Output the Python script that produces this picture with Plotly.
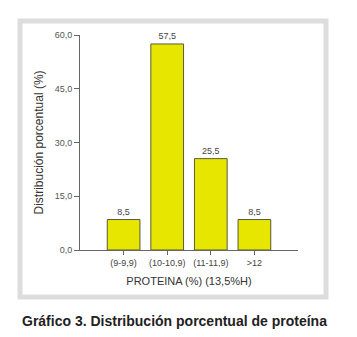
import plotly.graph_objects as go

categories = ["(9-9,9)", "(10-10,9)", "(11-11,9)", ">12"]
values = [8.5, 57.5, 25.5, 8.5]
y_ticks = [0, 15, 30, 45, 60]

L, R, T, B = 80, 59, 35, 87
W, H = 357, 337
pw, ph = W - L - R, H - T - B

def px(x):
    return (x - L) / pw

def py(y):
    return (H - B - y) / ph

fig = go.Figure(go.Bar(
    x=categories, y=values, width=0.75,
    marker=dict(color="#e6e600", line=dict(color="#5a5a3a", width=1)),
    texttemplate="%{y:.1f}", textposition="outside",
    textfont=dict(family="Liberation Sans, Arial", size=9, color="#444"),
    cliponaxis=False,
))

fig.update_layout(
    width=W, height=H, margin=dict(l=L, r=R, t=T, b=B),
    paper_bgcolor="white", plot_bgcolor="white",
    separators=",.", showlegend=False,
    font=dict(family="Liberation Sans, Arial", color="#444"),
    xaxis=dict(range=[-1, 4], showline=True, linecolor="#666", linewidth=1,
               ticks="outside", ticklen=4, tickcolor="#666", showgrid=False,
               tickfont=dict(size=9, color="#444"),
               title=dict(text="PROTEINA (%) (13,5%H)", font=dict(size=11, color="#333"), standoff=10)),
    yaxis=dict(range=[0, 60], tickvals=y_ticks, tickformat=".1f", showline=True,
               linecolor="#666", linewidth=1, ticks="outside", ticklen=5, tickcolor="#666",
               showgrid=False, zeroline=False, tickfont=dict(size=9, color="#555"),
               title=dict(text="Distribución porcentual (%)", font=dict(size=12, color="#333"), standoff=8)),
    shapes=[dict(type="rect", xref="paper", yref="paper",
                 x0=px(20), x1=px(326), y0=py(297), y1=py(21),
                 line=dict(color="#dddddd", width=5), layer="below")],
    annotations=[dict(text="<b>Gráfico 3. Distribución porcentual de proteína</b>",
                      xref="paper", yref="paper", x=px(174), y=py(321),
                      showarrow=False, font=dict(size=14, color="#222"),
                      xanchor="center", yanchor="middle")],
)

fig.write_html("out.html")
